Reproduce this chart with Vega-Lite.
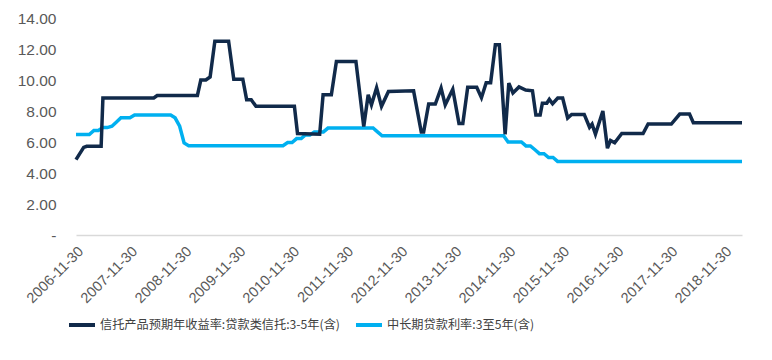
{
"$schema": "https://vega.github.io/schema/vega-lite/v6.json",
"width": 666, "height": 217,
"autosize": {"type": "none"},
"padding": {"left": 76, "top": 18, "right": 30, "bottom": 125},
"background": "white",
"config": {"view": {"stroke": null}, "font": "Liberation Sans"},
"datasets": {
"trust": [
{"date":"2006-11-30","v":4.86},{"date":"2007-01-21","v":5.65},{"date":"2007-02-10","v":5.72},{"date":"2007-05-19","v":5.72},{"date":"2007-05-31","v":8.84},
{"date":"2008-05-09","v":8.84},{"date":"2008-06-01","v":9.0},{"date":"2009-02-28","v":9.0},{"date":"2009-03-23","v":10.0},{"date":"2009-04-26","v":10.0},
{"date":"2009-05-25","v":10.2},{"date":"2009-06-26","v":12.5},{"date":"2009-09-27","v":12.5},{"date":"2009-11-01","v":10.05},{"date":"2010-01-01","v":10.05},
{"date":"2010-01-27","v":8.73},{"date":"2010-02-27","v":8.73},{"date":"2010-03-31","v":8.3},{"date":"2010-12-16","v":8.3},{"date":"2011-01-06","v":6.55},
{"date":"2011-06-05","v":6.5},{"date":"2011-06-28","v":9.05},{"date":"2011-08-23","v":9.05},{"date":"2011-09-26","v":11.2},{"date":"2012-02-05","v":11.2},
{"date":"2012-03-29","v":7.0},{"date":"2012-04-28","v":9.05},{"date":"2012-05-20","v":8.4},{"date":"2012-06-24","v":9.5},{"date":"2012-07-27","v":8.3},
{"date":"2012-09-12","v":9.26},{"date":"2013-03-01","v":9.3},{"date":"2013-04-22","v":6.64},{"date":"2013-05-08","v":6.64},{"date":"2013-06-11","v":8.45},
{"date":"2013-07-26","v":8.45},{"date":"2013-09-03","v":9.48},{"date":"2013-10-01","v":8.4},{"date":"2013-11-21","v":9.4},{"date":"2014-01-02","v":7.2},
{"date":"2014-01-28","v":7.2},{"date":"2014-03-02","v":9.53},{"date":"2014-05-02","v":9.53},{"date":"2014-06-03","v":8.86},{"date":"2014-07-05","v":9.82},
{"date":"2014-08-04","v":9.82},{"date":"2014-09-05","v":12.28},{"date":"2014-10-02","v":12.28},{"date":"2014-11-10","v":6.5},{"date":"2014-12-05","v":9.8},
{"date":"2015-01-02","v":9.16},{"date":"2015-02-12","v":9.55},{"date":"2015-03-29","v":9.35},{"date":"2015-05-14","v":9.3},{"date":"2015-06-06","v":7.75},
{"date":"2015-07-05","v":7.75},{"date":"2015-07-20","v":8.5},{"date":"2015-08-19","v":8.5},{"date":"2015-09-05","v":8.75},{"date":"2015-09-27","v":8.47},
{"date":"2015-11-01","v":8.84},{"date":"2015-12-04","v":8.84},{"date":"2016-01-07","v":7.55},{"date":"2016-02-03","v":7.78},{"date":"2016-04-28","v":7.78},
{"date":"2016-06-03","v":6.95},{"date":"2016-06-20","v":7.15},{"date":"2016-07-13","v":6.5},{"date":"2016-09-01","v":8.0},{"date":"2016-10-02","v":5.6},
{"date":"2016-10-23","v":6.1},{"date":"2016-11-20","v":5.95},{"date":"2017-01-07","v":6.55},{"date":"2017-05-31","v":6.55},{"date":"2017-07-04","v":7.16},
{"date":"2017-12-08","v":7.16},{"date":"2018-02-03","v":7.8},{"date":"2018-04-10","v":7.8},{"date":"2018-05-06","v":7.25},{"date":"2019-03-31","v":7.25}
],
"loan": [
{"date":"2006-11-30","v":6.48},{"date":"2007-02-28","v":6.48},{"date":"2007-03-31","v":6.75},{"date":"2007-04-30","v":6.75},{"date":"2007-05-31","v":6.93},
{"date":"2007-06-30","v":6.93},{"date":"2007-07-31","v":7.02},{"date":"2007-08-31","v":7.29},{"date":"2007-09-30","v":7.56},{"date":"2007-11-30","v":7.56},
{"date":"2007-12-31","v":7.74},{"date":"2008-08-31","v":7.74},{"date":"2008-09-30","v":7.56},{"date":"2008-10-31","v":7.02},{"date":"2008-11-30","v":5.94},
{"date":"2008-12-31","v":5.76},{"date":"2010-09-30","v":5.76},{"date":"2010-10-31","v":5.96},{"date":"2010-11-30","v":5.96},{"date":"2010-12-31","v":6.22},
{"date":"2011-01-31","v":6.22},{"date":"2011-02-28","v":6.45},{"date":"2011-03-31","v":6.45},{"date":"2011-04-30","v":6.65},{"date":"2011-06-30","v":6.65},
{"date":"2011-07-31","v":6.9},{"date":"2012-05-31","v":6.9},{"date":"2012-06-30","v":6.65},{"date":"2012-07-31","v":6.4},{"date":"2014-10-31","v":6.4},
{"date":"2014-11-30","v":6.0},{"date":"2015-02-28","v":6.0},{"date":"2015-03-31","v":5.75},{"date":"2015-04-30","v":5.75},{"date":"2015-05-31","v":5.5},
{"date":"2015-06-30","v":5.25},{"date":"2015-07-31","v":5.25},{"date":"2015-08-31","v":5.0},{"date":"2015-09-30","v":5.0},{"date":"2015-10-31","v":4.75},
{"date":"2019-03-31","v":4.75}
]
},
"encoding": {
  "x": {"field": "date", "type": "temporal",
    "scale": {"type": "utc", "nice": false, "domain": [{"year":2006,"month":11,"date":30,"utc":true},{"year":2019,"month":3,"date":31,"utc":true}]},
    "axis": {"title": null, "values": [
      {"year":2006,"month":11,"date":30,"utc":true},{"year":2007,"month":11,"date":30,"utc":true},{"year":2008,"month":11,"date":30,"utc":true},
      {"year":2009,"month":11,"date":30,"utc":true},{"year":2010,"month":11,"date":30,"utc":true},{"year":2011,"month":11,"date":30,"utc":true},
      {"year":2012,"month":11,"date":30,"utc":true},{"year":2013,"month":11,"date":30,"utc":true},{"year":2014,"month":11,"date":30,"utc":true},
      {"year":2015,"month":11,"date":30,"utc":true},{"year":2016,"month":11,"date":30,"utc":true},{"year":2017,"month":11,"date":30,"utc":true},
      {"year":2018,"month":11,"date":30,"utc":true}],
      "labelExpr": "utcFormat(datum.value, '%Y-%m-%d')",
      "labelAngle": -45, "labelFontSize": 14.5, "labelColor": "#595959", "labelPadding": 9,
      "ticks": false, "grid": false, "domainColor": "#d9d9d9", "domainWidth": 1.5, "labelOverlap": false, "labelFlush": false, "labelBound": false}},
  "y": {"field": "v", "type": "quantitative",
    "scale": {"domain": [0, 14], "nice": false},
    "axis": {"title": null, "values": [0,2,4,6,8,10,12,14],
      "labelExpr": "datum.value == 0 ? '-' : format(datum.value, '.2f')",
      "domain": false, "ticks": false, "grid": false, "labelFontSize": 15.5, "labelColor": "#595959", "labelPadding": 20}},
  "color": {"field": "s", "type": "nominal",
    "scale": {"domain": ["信托产品预期年收益率:贷款类信托:3-5年(含)", "中长期贷款利率:3至5年(含)"], "range": ["#112a4a", "#00b0f0"]},
    "legend": {"title": null, "orient": "none", "legendX": -9, "legendY": 292, "direction": "horizontal",
      "symbolType": "stroke", "symbolSize": 676, "symbolStrokeWidth": 4,
      "labelFont": "Noto Sans CJK SC", "labelFontSize": 12.2, "labelColor": "#404040", "labelOffset": 3,
      "columnPadding": 8, "labelLimit": 400}}
},
"layer": [
  {"data": {"name": "loan"}, "transform": [{"calculate": "'中长期贷款利率:3至5年(含)'", "as": "s"}],
   "mark": {"type": "line", "strokeWidth": 3.5}},
  {"data": {"name": "trust"}, "transform": [{"calculate": "'信托产品预期年收益率:贷款类信托:3-5年(含)'", "as": "s"}],
   "mark": {"type": "line", "strokeWidth": 3.5}}
]
}
